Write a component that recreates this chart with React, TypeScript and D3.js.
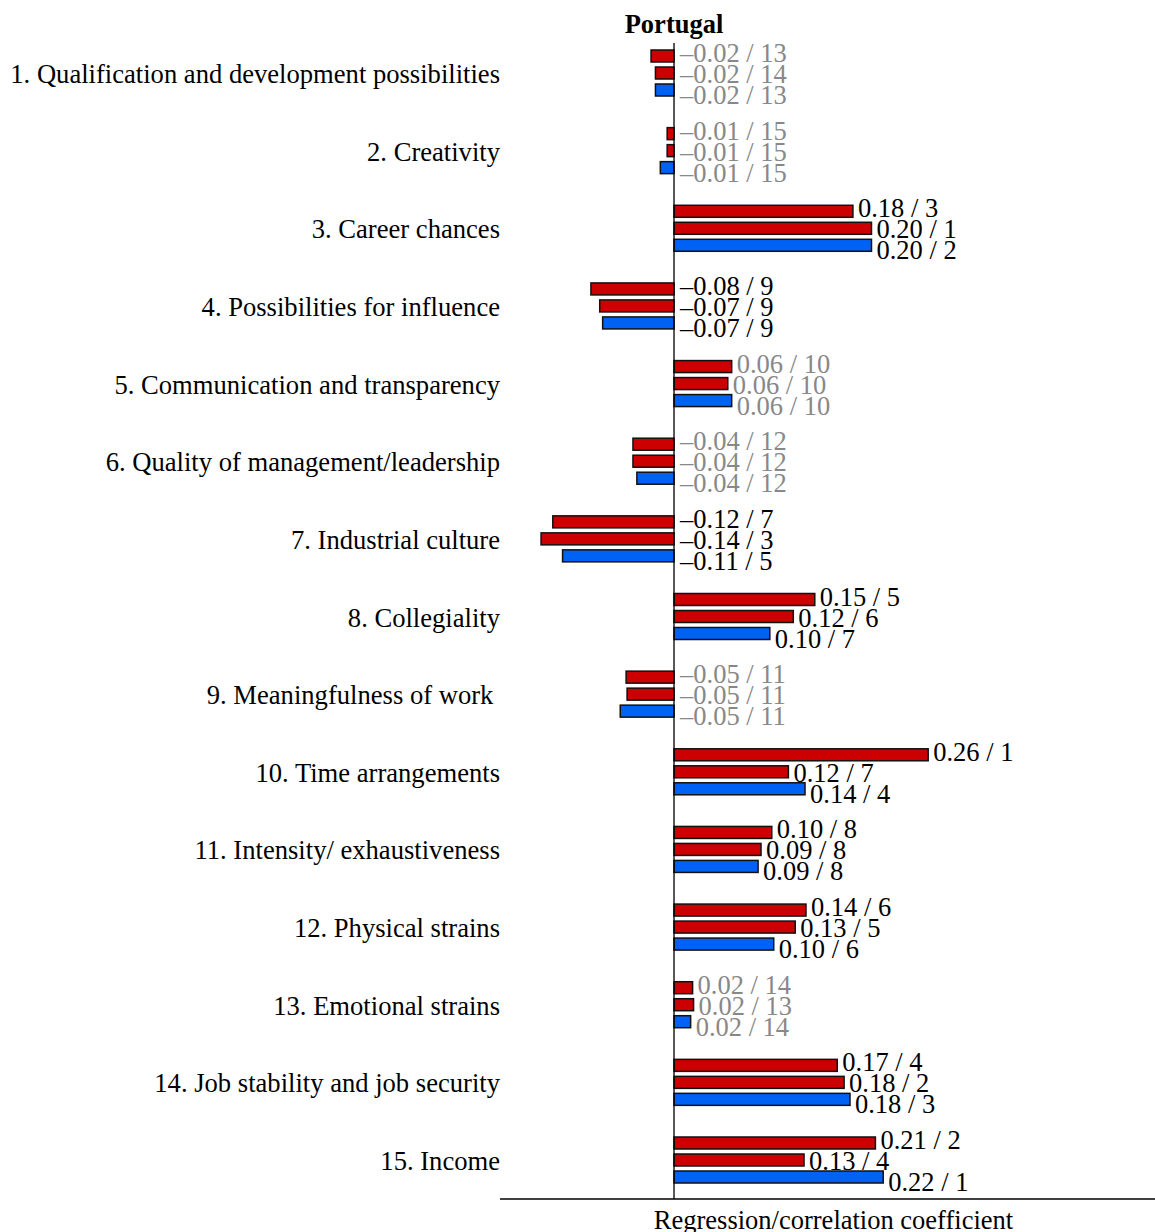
import React from "react";
import * as d3 from "d3";

const categories = [
  "1. Qualification and development possibilities",
  "2. Creativity",
  "3. Career chances",
  "4. Possibilities for influence",
  "5. Communication and transparency",
  "6. Quality of management/leadership",
  "7. Industrial culture",
  "8. Collegiality",
  "9. Meaningfulness of work ",
  "10. Time arrangements",
  "11. Intensity/ exhaustiveness",
  "12. Physical strains",
  "13. Emotional strains",
  "14. Job stability and job security",
  "15. Income",
];

// bar values
const seriesA = [-0.0235, -0.007, 0.183, -0.085, 0.059, -0.042, -0.124, 0.144, -0.049, 0.26, 0.1, 0.135, 0.019, 0.167, 0.206];
const seriesB = [-0.019, -0.007, 0.202, -0.076, 0.055, -0.042, -0.136, 0.122, -0.048, 0.117, 0.089, 0.124, 0.02, 0.174, 0.133];
const seriesC = [-0.019, -0.014, 0.202, -0.073, 0.059, -0.038, -0.114, 0.098, -0.055, 0.134, 0.086, 0.102, 0.017, 0.18, 0.214];

const labelsA = ["–0.02 / 13", "–0.01 / 15", "0.18 / 3", "–0.08 / 9", "0.06 / 10", "–0.04 / 12", "–0.12 / 7", "0.15 / 5", "–0.05 / 11", "0.26 / 1", "0.10 / 8", "0.14 / 6", "0.02 / 14", "0.17 / 4", "0.21 / 2"];
const labelsB = ["–0.02 / 14", "–0.01 / 15", "0.20 / 1", "–0.07 / 9", "0.06 / 10", "–0.04 / 12", "–0.14 / 3", "0.12 / 6", "–0.05 / 11", "0.12 / 7", "0.09 / 8", "0.13 / 5", "0.02 / 13", "0.18 / 2", "0.13 / 4"];
const labelsC = ["–0.02 / 13", "–0.01 / 15", "0.20 / 2", "–0.07 / 9", "0.06 / 10", "–0.04 / 12", "–0.11 / 5", "0.10 / 7", "–0.05 / 11", "0.14 / 4", "0.09 / 8", "0.10 / 6", "0.02 / 14", "0.18 / 3", "0.22 / 1"];

const significant = [false, false, true, true, false, false, true, true, false, true, true, true, false, true, true];

const seriesColors = ["#cc0000", "#cc0000", "#0062f5"];

export default function App() {
  const W = 1155;
  const H = 1232;
  const x = d3.scaleLinear().domain([-0.178, 0.492]).range([500, 1155]);
  const y = d3.scalePoint<string>().domain(categories).range([73, 1160]);
  const x0 = x(0);
  const barH = 12;
  const barPitch = 17;
  const labelPitch = 21;
  const font = "'Liberation Serif', 'Times New Roman', serif";
  const series = [seriesA, seriesB, seriesC];
  const labels = [labelsA, labelsB, labelsC];

  return (
    <svg width={W} height={H} style={{ position: "absolute", left: 0, top: 0, background: "#fff" }} fontFamily={font}>
      <text x={x0} y={33} textAnchor="middle" fontSize={26.5} fontWeight="bold">Portugal</text>
      {categories.map((c, i) => {
        const cy = y(c)!;
        return (
          <g key={c}>
            <text x={500} y={cy + 1} textAnchor="end" dominantBaseline="central" fontSize={26.6} style={{ whiteSpace: "pre" }}>{c}</text>
            {series.map((s, j) => {
              const v = s[i];
              const by = cy + (j - 1) * barPitch - barH / 2;
              const bx = Math.min(x(v), x0);
              const bw = Math.abs(x(v) - x0);
              const lx = v > 0 ? x(v) + 5 : x0 + 6;
              return (
                <g key={j}>
                  <rect x={bx} y={by} width={bw} height={barH} fill={seriesColors[j]} stroke="#111" strokeWidth={1.5} />
                  <text x={lx} y={cy + (j - 1) * labelPitch + 1} dominantBaseline="central" fontSize={26.5} fill={significant[i] ? "#000" : "#888"}>{labels[j][i]}</text>
                </g>
              );
            })}
          </g>
        );
      })}
      <line x1={x0} x2={x0} y1={43} y2={1199} stroke="#000" strokeWidth={1.3} />
      <line x1={500} x2={1155} y1={1199} y2={1199} stroke="#000" strokeWidth={1.3} />
      <text x={833.5} y={1229} textAnchor="middle" fontSize={26.5}>Regression/correlation coefficient</text>
    </svg>
  );
}
